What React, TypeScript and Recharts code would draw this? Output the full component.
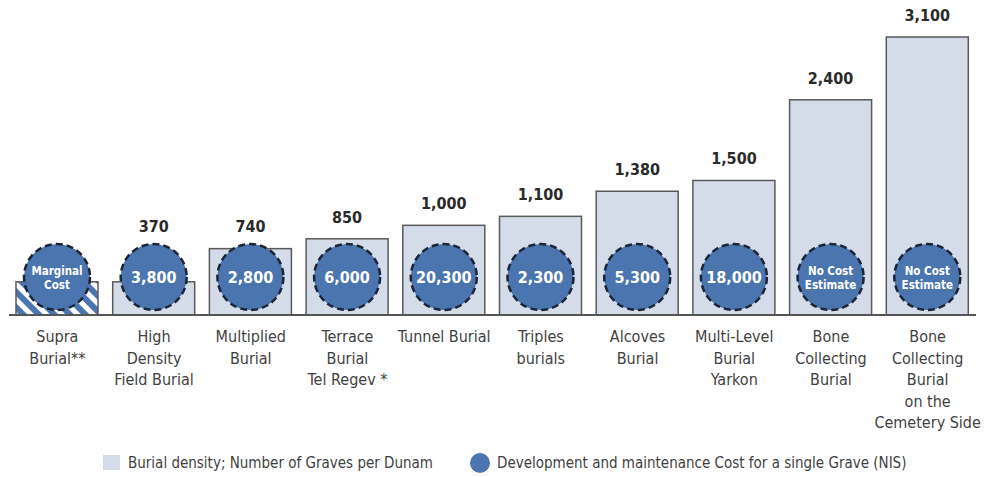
import React from "react";
import { ComposedChart, Bar, XAxis, YAxis, LabelList, Legend } from "recharts";

const categories = [
  "Supra Burial**",
  "High Density Field Burial",
  "Multiplied Burial",
  "Terrace Burial Tel Regev *",
  "Tunnel Burial",
  "Triples burials",
  "Alcoves Burial",
  "Multi-Level Burial Yarkon",
  "Bone Collecting Burial",
  "Bone Collecting Burial on the Cemetery Side",
];
const tickLines = [
  ["Supra", "Burial**"],
  ["High", "Density", "Field Burial"],
  ["Multiplied", "Burial"],
  ["Terrace", "Burial", "Tel Regev *"],
  ["Tunnel Burial"],
  ["Triples", "burials"],
  ["Alcoves", "Burial"],
  ["Multi-Level", "Burial", "Yarkon"],
  ["Bone", "Collecting", "Burial"],
  ["Bone", "Collecting", "Burial", "on the", "Cemetery Side"],
];
const density = [370, 370, 740, 850, 1000, 1100, 1380, 1500, 2400, 3100];
const densityLabels = ["", "370", "740", "850", "1,000", "1,100", "1,380", "1,500", "2,400", "3,100"];
const costLabels = [
  ["Marginal", "Cost"],
  ["3,800"],
  ["2,800"],
  ["6,000"],
  ["20,300"],
  ["2,300"],
  ["5,300"],
  ["18,000"],
  ["No Cost", "Estimate"],
  ["No Cost", "Estimate"],
];
const hatched = [true, false, false, false, false, false, false, false, false, false];

const data = categories.map((c, i) => ({
  name: c,
  density: density[i],
  densityLabel: densityLabels[i],
  cost: costLabels[i].join(" "),
}));

const FONT = "'DejaVu Sans Condensed', 'DejaVu Sans', sans-serif";
const BAR_FILL = "#d3dce8";
const BAR_STROKE = "#5a5a5a";
const CIRCLE_FILL = "#4b75ae";
const CIRCLE_STROKE = "#1c2536";
const textStyle: React.CSSProperties = { fontStretch: "condensed" } as any;

const BarShape = (props: any) => {
  const { x, y, width, height, index } = props;
  const h = hatched[index];
  return (
    <g>
      {h && (
        <defs>
          <pattern id="hatch" patternUnits="userSpaceOnUse" width="11" height="11" patternTransform="rotate(-45)">
            <rect x="0" y="0" width="11" height="11" fill="#ffffff" />
            <rect x="0" y="0" width="6" height="11" fill={CIRCLE_FILL} />
          </pattern>
        </defs>
      )}
      <rect x={x} y={y} width={width} height={height} fill={h ? "url(#hatch)" : BAR_FILL} stroke={BAR_STROKE} strokeWidth={1.5} />
    </g>
  );
};

const ValueLabel = (props: any) => {
  const { x, y, width, value } = props;
  if (!value) return null;
  const ty = Math.min(y - 16, 232);
  return (
    <text x={x + width / 2} y={ty} textAnchor="middle" fontFamily={FONT} style={textStyle} fontWeight={700} fontSize={16} fill="#2a2a2a">
      {value}
    </text>
  );
};

const CostCircle = (props: any) => {
  const { x, y, width, height, index } = props;
  const cx = x + width / 2;
  const cy = y + height - 38;
  const lines = costLabels[index];
  const small = lines.length > 1;
  return (
    <g>
      <circle cx={cx} cy={cy} r={33} fill={CIRCLE_FILL} stroke={CIRCLE_STROKE} strokeWidth={2.5} strokeDasharray="7 4" />
      {small ? (
        <text x={cx} y={cy - 2} textAnchor="middle" fontFamily={FONT} style={textStyle} fontWeight={700} fontSize={11.5} fill="#ffffff">
          <tspan x={cx} dy={0}>{lines[0]}</tspan>
          <tspan x={cx} dy={14}>{lines[1]}</tspan>
        </text>
      ) : (
        <text x={cx} y={cy + 6} textAnchor="middle" fontFamily={FONT} style={textStyle} fontWeight={700} fontSize={16} fill="#ffffff">
          {lines[0]}
        </text>
      )}
    </g>
  );
};

const Tick = (props: any) => {
  const { x, y, index } = props;
  const lines = tickLines[index] || [];
  return (
    <text x={x} y={y + 19} textAnchor="middle" fontFamily={FONT} style={textStyle} fontSize={16} fill="#3f3f3f">
      {lines.map((l, i) => (
        <tspan key={i} x={x} dy={i === 0 ? 0 : 21.5}>
          {l}
        </tspan>
      ))}
    </text>
  );
};

const LegendContent = () => (
  <div style={{ position: "relative", height: 30, width: 986, fontFamily: FONT, fontStretch: "condensed", fontSize: 15, color: "#3f3f3f" }}>
    <div style={{ position: "absolute", left: 103, top: 8, width: 17, height: 15, background: BAR_FILL }} />
    <div style={{ position: "absolute", left: 128, top: 5, lineHeight: "22px", whiteSpace: "nowrap" }}>
      Burial density; Number of Graves per Dunam
    </div>
    <div style={{ position: "absolute", left: 470, top: 6, width: 20, height: 20, borderRadius: 10, background: CIRCLE_FILL }} />
    <div style={{ position: "absolute", left: 497, top: 5, lineHeight: "22px", whiteSpace: "nowrap" }}>
      Development and maintenance Cost for a single Grave (NIS)
    </div>
  </div>
);

export default function App() {
  return (
    <div style={{ position: "absolute", left: 0, top: 0, width: 986, height: 477, background: "#fff" }}>
      <ComposedChart width={986} height={477} data={data} margin={{ top: 37, right: 10, left: 9, bottom: 0 }}>
        <YAxis hide domain={[0, 3100]} />
        <XAxis
          dataKey="name"
          interval={0}
          tickLine={false}
          height={132}
          axisLine={{ stroke: "#555555", strokeWidth: 2 }}
          tick={<Tick />}
        />
        <Legend
          verticalAlign="bottom"
          content={<LegendContent />}
          wrapperStyle={{ left: 0, bottom: 0, width: 986, height: 30 }}
        />
        <Bar dataKey="density" barSize={82} shape={<BarShape />} isAnimationActive={false}>
          <LabelList dataKey="densityLabel" content={<ValueLabel />} />
          <LabelList dataKey="cost" content={<CostCircle />} />
        </Bar>
      </ComposedChart>
    </div>
  );
}
